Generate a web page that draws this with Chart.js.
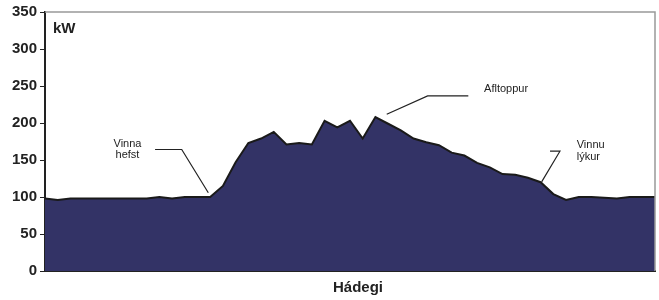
<!DOCTYPE html>
<html>
<head>
<meta charset="utf-8">
<script src="https://cdn.jsdelivr.net/npm/chart.js@4/dist/chart.umd.min.js"></script>
<style>
	html, body { margin: 0; padding: 0; background: #fff; }
	#wrap { width: 659px; height: 300px; }
</style>
</head>
<body>
<div id="wrap"><canvas id="myChart"></canvas></div>
<script>
// half-hourly readings, 00:00 .. 24:00
const times = [];
for (let h = 0; h <= 24; h++) {
	times.push(String(h).padStart(2, '0') + ':00');
	if (h < 24) times.push(String(h).padStart(2, '0') + ':30');
}

const load = [
	98, 96, 98, 98, 98, 98, 98, 98, 98, 100,
	98, 100, 100, 100, 115, 147, 173, 179, 188, 171,
	173, 171, 203, 194, 203, 179, 208, 199, 190, 179,
	174, 170, 160, 156, 146, 140, 131, 130, 126, 120,
	104, 96, 100, 100, 99, 98, 100, 100, 100
];

const yTicks = [0, 50, 100, 150, 200, 250, 300, 350];

const unitLabel = 'kW';
const xTitle = 'Hádegi';

const notes = [
	{ lines: ['Vinna', 'hefst'], align: 'center' },
	{ lines: ['Afltoppur'], align: 'left' },
	{ lines: ['Vinnu', 'lýkur'], align: 'left' }
];

const ink = '#222222';
const boldFont = 'bold 15px "Liberation Sans", Arial, sans-serif';

// frame, unit, axis title, notes with leader lines (placed in data units)
const notesPlugin = {
	id: 'notes',
	afterDatasetsDraw(chart) {
		const ctx = chart.ctx;
		const xs = chart.scales.x;
		const ys = chart.scales.y;
		const px = v => xs.getPixelForValue(v);
		const py = v => ys.getPixelForValue(v);
		const area = chart.chartArea;

		ctx.save();
		ctx.strokeStyle = '#999999';
		ctx.lineWidth = 1.5;
		ctx.beginPath();
		ctx.moveTo(area.left, area.top);
		ctx.lineTo(area.right, area.top);
		ctx.lineTo(area.right, area.bottom);
		ctx.stroke();

		ctx.fillStyle = ink;
		ctx.font = boldFont;
		ctx.textBaseline = 'middle';
		ctx.textAlign = 'left';
		ctx.fillText(unitLabel, area.left + 8, area.top + 17);

		ctx.textAlign = 'center';
		ctx.fillText(xTitle, (area.left + area.right) / 2 + 8, area.bottom + 17);

		const spots = [
			{ x: 6.49, y: [171.4, 156.5], path: [[8.66, 164.2], [10.76, 164.2], [12.85, 105.7]] },
			{ x: 34.55, y: [245.6], path: [[26.89, 211.9], [30.11, 236.6], [33.31, 236.6]] },
			{ x: 41.84, y: [170, 153.8], path: [[39.74, 161.9], [40.52, 161.9], [39.08, 120.5]] }
		];

		ctx.font = '11px "Liberation Sans", Arial, sans-serif';
		ctx.strokeStyle = ink;
		ctx.lineWidth = 1.2;
		notes.forEach((n, i) => {
			const s = spots[i];
			ctx.textAlign = n.align;
			n.lines.forEach((t, j) => ctx.fillText(t, px(s.x), py(s.y[j])));
			ctx.beginPath();
			s.path.forEach((p, k) => {
				if (k === 0) ctx.moveTo(px(p[0]), py(p[1]));
				else ctx.lineTo(px(p[0]), py(p[1]));
			});
			ctx.stroke();
		});
		ctx.restore();
	}
};

window.onload = () => {
	const ctx = document.getElementById('myChart').getContext('2d');
	new Chart(ctx, {
		type: 'line',
		data: {
			labels: times,
			datasets: [{
				data: load,
				fill: 'origin',
				backgroundColor: '#333366',
				borderColor: '#1a1a1a',
				borderWidth: 2,
				pointRadius: 0,
				tension: 0
			}]
		},
		options: {
			responsive: true,
			maintainAspectRatio: false,
			animation: false,
			layout: { padding: { top: 12, right: 4, left: 0, bottom: 0 } },
			plugins: {
				legend: { display: false },
				tooltip: { enabled: false }
			},
			scales: {
				x: {
					grid: { display: false },
					border: { display: true, color: ink, width: 2 },
					ticks: { display: false },
					afterFit(scale) { scale.height = 29; }
				},
				y: {
					min: 0,
					max: 350,
					afterBuildTicks(scale) { scale.ticks = yTicks.map(v => ({ value: v })); },
					grid: { display: true, drawOnChartArea: false, drawTicks: true, tickLength: 5, color: ink },
					border: { display: true, color: ink, width: 2 },
					ticks: {
						color: ink,
						padding: 3,
						font: { family: '"Liberation Sans", Arial, sans-serif', size: 15, weight: 'bold' }
					},
					afterFit(scale) { scale.width = 45; }
				}
			}
		},
		plugins: [notesPlugin]
	});
};
</script>
</body>
</html>
